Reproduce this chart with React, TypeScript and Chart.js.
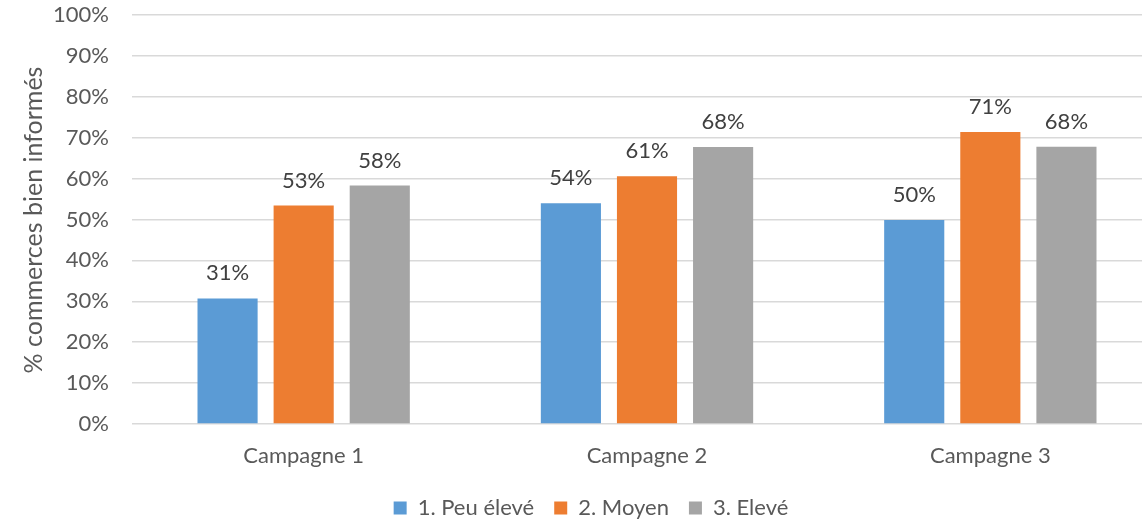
import React, { useEffect, useRef } from "react";
import { Chart, registerables } from "chart.js";

Chart.register(...registerables);

const categories = ["Campagne 1", "Campagne 2", "Campagne 3"];
const seriesNames = ["1. Peu élevé", "2. Moyen", "3. Elevé"];
const peuEleve = [30.7, 54.0, 49.9];
const moyen = [53.4, 60.6, 71.4];
const eleve = [58.3, 67.7, 67.8];
const colors = ["#5B9BD5", "#ED7D31", "#A5A5A5"];
const yTitle = "% commerces bien informés";

const FONT = "Lato, 'Open Sans', sans-serif";

const dataLabelPlugin = {
  id: "dataLabels",
  afterDatasetsDraw(chart: any) {
    const ctx = chart.ctx;
    ctx.save();
    ctx.font = `22px ${FONT}`;
    ctx.fillStyle = "#404040";
    ctx.textAlign = "center";
    ctx.textBaseline = "alphabetic";
    chart.data.datasets.forEach((ds: any, i: number) => {
      const meta = chart.getDatasetMeta(i);
      meta.data.forEach((bar: any, j: number) => {
        const v = ds.data[j];
        ctx.fillText(Math.round(v) + "%", bar.x, bar.y - 18);
      });
    });
    ctx.restore();
  },
};

const yTitlePlugin = {
  id: "yTitle",
  afterDraw(chart: any) {
    const ctx = chart.ctx;
    ctx.save();
    ctx.font = `25px ${FONT}`;
    ctx.fillStyle = "#595959";
    ctx.textAlign = "center";
    ctx.textBaseline = "middle";
    ctx.translate(34, 220);
    ctx.rotate(-Math.PI / 2);
    ctx.fillText(yTitle, 0, 0);
    ctx.restore();
  },
};

export default function App() {
  const ref = useRef<HTMLCanvasElement>(null);
  useEffect(() => {
    if (!ref.current) return;
    const chart = new Chart(ref.current, {
      type: "bar",
      data: {
        labels: categories,
        datasets: [peuEleve, moyen, eleve].map((d, i) => ({
          label: seriesNames[i],
          data: d,
          backgroundColor: colors[i],
          barPercentage: 0.79,
          categoryPercentage: 0.665,
        })),
      },
      options: {
        animation: false,
        responsive: true,
        maintainAspectRatio: false,
        layout: { padding: { left: 20, right: 20, top: 15, bottom: -10 } },
        plugins: {
          tooltip: { enabled: false },
          legend: {
            position: "bottom",
            labels: {
              boxWidth: 13,
              boxHeight: 13,
              padding: 20,
              color: "#595959",
              font: { family: FONT, size: 22 },
            },
          },
        },
        scales: {
          x: {
            grid: { display: false, drawTicks: false },
            border: { display: false },
            ticks: { color: "#595959", font: { family: FONT, size: 22 }, padding: 19 },
            afterFit(scale: any) {
              scale.height = 53;
            },
          },
          y: {
            min: 0,
            max: 100,
            ticks: {
              stepSize: 10,
              color: "#595959",
              font: { family: FONT, size: 22 },
              padding: 0,
              callback: (v: any) => v + "%",
            },
            grid: {
              color: "#D9D9D9",
              lineWidth: 1.5,
              drawTicks: true,
              tickLength: 23,
              tickColor: "rgba(0,0,0,0)",
            },
            border: { display: false },
            afterFit(scale: any) {
              scale.width = 112;
            },
          },
        },
      },
      plugins: [dataLabelPlugin, yTitlePlugin],
    });
    return () => chart.destroy();
  }, []);
  return (
    <div style={{ position: "absolute", left: 0, top: 0, width: 1142, height: 519, overflow: "hidden", background: "#fff" }}>
      <div style={{ position: "relative", width: 1182, height: 519 }}>
        <canvas ref={ref} />
      </div>
    </div>
  );
}
